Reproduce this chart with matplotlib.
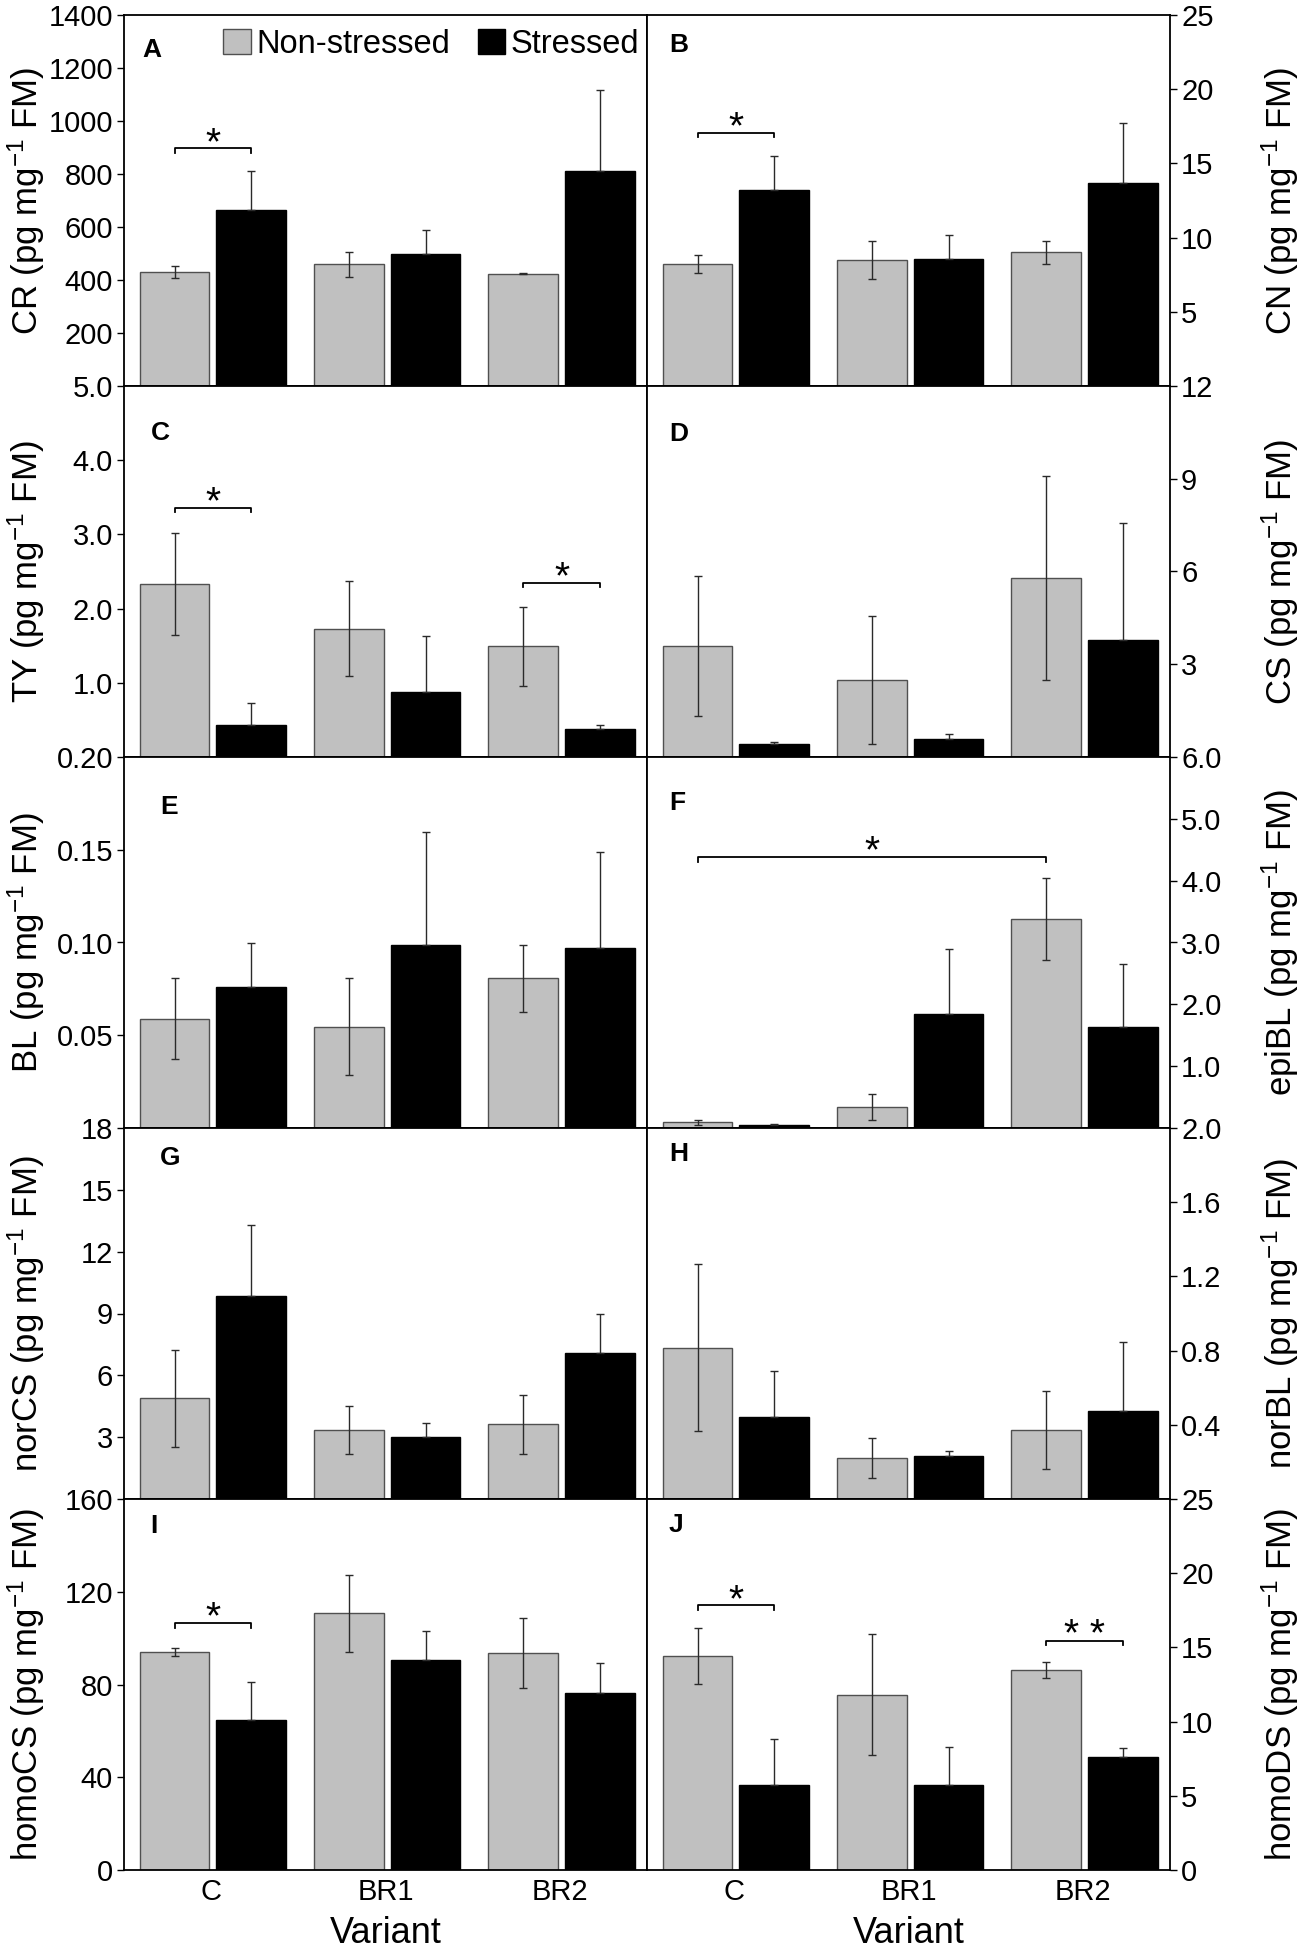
import numpy as np
import matplotlib.pyplot as plt
from matplotlib.patches import Patch
from matplotlib.ticker import FixedLocator, FormatStrFormatter

plt.rcParams['font.family'] = ['Liberation Sans', 'DejaVu Sans']
plt.rcParams['mathtext.fontset'] = 'custom'
plt.rcParams['mathtext.rm'] = 'Liberation Sans'
plt.rcParams['mathtext.it'] = 'Liberation Sans:italic'

variants = ['C', 'BR1', 'BR2']

# means and error (pg mg-1 FM)
cr_ns = [430, 460, 424]
cr_ns_err = [24, 47, 3]
cr_s = [665, 499, 811]
cr_s_err = [145, 90, 306]

cn_ns = [8.2, 8.5, 9.0]
cn_ns_err = [0.6, 1.26, 0.77]
cn_s = [13.2, 8.55, 13.7]
cn_s_err = [2.3, 1.6, 4.05]

ty_ns = [2.33, 1.73, 1.49]
ty_ns_err = [0.69, 0.64, 0.53]
ty_s = [0.43, 0.875, 0.38]
ty_s_err = [0.30, 0.75, 0.05]

cs_ns = [3.6, 2.49, 5.79]
cs_ns_err = [2.27, 2.07, 3.3]
cs_s = [0.43, 0.58, 3.80]
cs_s_err = [0.07, 0.18, 3.77]

bl_ns = [0.059, 0.0547, 0.0808]
bl_ns_err = [0.022, 0.026, 0.018]
bl_s = [0.0758, 0.0988, 0.0968]
bl_s_err = [0.024, 0.061, 0.052]

epibl_ns = [0.09, 0.344, 3.38]
epibl_ns_err = [0.035, 0.21, 0.66]
epibl_s = [0.054, 1.84, 1.63]
epibl_s_err = [0.012, 1.05, 1.02]

norcs_ns = [4.89, 3.34, 3.62]
norcs_ns_err = [2.36, 1.15, 1.42]
norcs_s = [9.85, 3.02, 7.06]
norcs_s_err = [3.45, 0.68, 1.9]

norbl_ns = [0.816, 0.222, 0.371]
norbl_ns_err = [0.45, 0.108, 0.21]
norbl_s = [0.441, 0.233, 0.472]
norbl_s_err = [0.25, 0.027, 0.375]

homocs_ns = [94.0, 110.7, 93.6]
homocs_ns_err = [1.8, 16.5, 15.2]
homocs_s = [64.5, 90.6, 76.5]
homocs_s_err = [16.4, 12.4, 12.8]

homods_ns = [14.43, 11.8, 13.49]
homods_ns_err = [1.9, 4.07, 0.52]
homods_s = [5.76, 5.76, 7.62]
homods_s_err = [3.08, 2.5, 0.63]

# significance: (variant from, series from, variant to, series to, height, mark)
cr_sig = [(0, 'ns', 0, 's', 897, '*')]
cn_sig = [(0, 'ns', 0, 's', 17.05, '*')]
ty_sig = [(0, 'ns', 0, 's', 3.36, '*'), (2, 'ns', 2, 's', 2.35, '*')]
epibl_sig = [(0, 'ns', 2, 'ns', 4.38, '*')]
homocs_sig = [(0, 'ns', 0, 's', 106.5, '*')]
homods_sig = [(0, 'ns', 0, 's', 17.83, '*'), (2, 'ns', 2, 's', 15.45, '* *')]

# tick values (the top one is the axis maximum)
cr_ticks = [200, 400, 600, 800, 1000, 1200, 1400]
cn_ticks = [5, 10, 15, 20, 25]
ty_ticks = [1.0, 2.0, 3.0, 4.0, 5.0]
cs_ticks = [3, 6, 9, 12]
bl_ticks = [0.05, 0.10, 0.15, 0.20]
epibl_ticks = [1.0, 2.0, 3.0, 4.0, 5.0, 6.0]
norcs_ticks = [3, 6, 9, 12, 15, 18]
norbl_ticks = [0.4, 0.8, 1.2, 1.6, 2.0]
homocs_ticks = [0, 40, 80, 120, 160]
homods_ticks = [0, 5, 10, 15, 20, 25]

panels = [
    ('A', 0, 0, 'CR', cr_ns, cr_ns_err, cr_s, cr_s_err, cr_ticks, '%d', cr_sig),
    ('B', 0, 1, 'CN', cn_ns, cn_ns_err, cn_s, cn_s_err, cn_ticks, '%d', cn_sig),
    ('C', 1, 0, 'TY', ty_ns, ty_ns_err, ty_s, ty_s_err, ty_ticks, '%.1f', ty_sig),
    ('D', 1, 1, 'CS', cs_ns, cs_ns_err, cs_s, cs_s_err, cs_ticks, '%d', []),
    ('E', 2, 0, 'BL', bl_ns, bl_ns_err, bl_s, bl_s_err, bl_ticks, '%.2f', []),
    ('F', 2, 1, 'epiBL', epibl_ns, epibl_ns_err, epibl_s, epibl_s_err, epibl_ticks, '%.1f', epibl_sig),
    ('G', 3, 0, 'norCS', norcs_ns, norcs_ns_err, norcs_s, norcs_s_err, norcs_ticks, '%d', []),
    ('H', 3, 1, 'norBL', norbl_ns, norbl_ns_err, norbl_s, norbl_s_err, norbl_ticks, '%.1f', []),
    ('I', 4, 0, 'homoCS', homocs_ns, homocs_ns_err, homocs_s, homocs_s_err, homocs_ticks, '%d', homocs_sig),
    ('J', 4, 1, 'homoDS', homods_ns, homods_ns_err, homods_s, homods_s_err, homods_ticks, '%d', homods_sig),
]

# letter position (axes fraction) per panel
letter_pos = {'A': (0.036, 0.906), 'B': (0.042, 0.92), 'C': (0.052, 0.873),
              'D': (0.042, 0.87), 'E': (0.069, 0.865), 'F': (0.042, 0.876),
              'G': (0.069, 0.92), 'H': (0.042, 0.93), 'I': (0.05, 0.927),
              'J': (0.042, 0.93)}

W, H = 1299, 1951
fig = plt.figure(figsize=(W / 100, H / 100), dpi=100)
col_x = [124, 647]
col_w = 523
top_px, bottom_px = 15, 1870
row_h = (bottom_px - top_px) / 5

x = np.arange(len(variants))
off = {'ns': -0.21, 's': 0.23}
bar_w = 0.40
grey = '#c0c0c0'
err_kw = dict(ecolor='#2a2a2a', elinewidth=1.0, capsize=3, capthick=1.0)

axes = {}
for letter, row, col, name, ns, ns_err, s, s_err, ticks, fmt, sig in panels:
    left = col_x[col] / W
    bottom = 1 - (top_px + (row + 1) * row_h) / H
    ax = fig.add_axes([left, bottom, col_w / W, row_h / H])
    axes[letter] = ax

    ax.bar(x + off['ns'], ns, bar_w, color=grey, edgecolor='#505050', linewidth=1.0, zorder=2)
    ax.bar(x + off['s'], s, bar_w, color='black', edgecolor='black', linewidth=1.0, zorder=2)
    ax.errorbar(x + off['ns'], ns, yerr=ns_err, fmt='none', zorder=3, **err_kw)
    ax.errorbar(x + off['s'], s, yerr=[np.zeros(3), s_err], fmt='none', zorder=3, **err_kw)

    ymax = max(ticks)
    ax.set_xlim(-0.5, 2.5)
    ax.set_ylim(0, ymax)
    ax.yaxis.set_major_locator(FixedLocator(ticks))
    ax.yaxis.set_major_formatter(FormatStrFormatter(fmt))
    ax.tick_params(axis='y', direction='out', length=5, width=1.0, pad=3, labelsize=21)

    for sp in ax.spines.values():
        sp.set_linewidth(1.3)

    label = name + r' (pg mg$^{-1}$ FM)'
    ax.set_ylabel(label, fontsize=25)
    if col == 1:
        ax.yaxis.tick_right()
        ax.yaxis.set_label_position('right')
        ax.yaxis.set_label_coords(1.21, 0.5)
    else:
        ax.yaxis.set_label_coords(-0.186, 0.5)
    ax.yaxis.label.set_rotation(90)
    ax.yaxis.label.set_verticalalignment('center')
    ax.yaxis.label.set_horizontalalignment('center')

    ax.set_xticks(x)
    if row == 4:
        ax.set_xticklabels(variants)
        ax.tick_params(axis='x', length=0, pad=6, labelsize=21)
        ax.set_xlabel('Variant', fontsize=26, va='center')
        ax.xaxis.set_label_coords(0.5, -0.17)
    else:
        ax.tick_params(axis='x', length=0, labelbottom=False)

    lx, ly = letter_pos[letter]
    ax.text(lx, ly, letter, transform=ax.transAxes, fontsize=19, fontweight='bold',
            ha='left', va='center')

    tick = 0.012 * ymax
    for i0, s0, i1, s1, yb, mark in sig:
        xa = x[i0] + off[s0]
        xb = x[i1] + off[s1]
        ax.plot([xa, xa, xb, xb], [yb - tick, yb, yb, yb - tick], color='black',
                linewidth=1.3, zorder=4)
        ax.annotate(mark, ((xa + xb) / 2, yb), xytext=(0, -4), textcoords='offset points',
                    ha='center', va='baseline', fontsize=28)

handles = [Patch(facecolor=grey, edgecolor='#505050', label='Non-stressed'),
           Patch(facecolor='black', edgecolor='black', label='Stressed')]
axes['A'].legend(handles=handles, loc='upper right', ncol=2, frameon=False,
                 bbox_to_anchor=(1 - 8 / col_w, 1 - 14 / row_h), borderaxespad=0,
                 borderpad=0, fontsize=23.5, handlelength=0.85, handleheight=0.8,
                 handletextpad=0.15, columnspacing=0.85)

fig.savefig('out.png', dpi=100)
